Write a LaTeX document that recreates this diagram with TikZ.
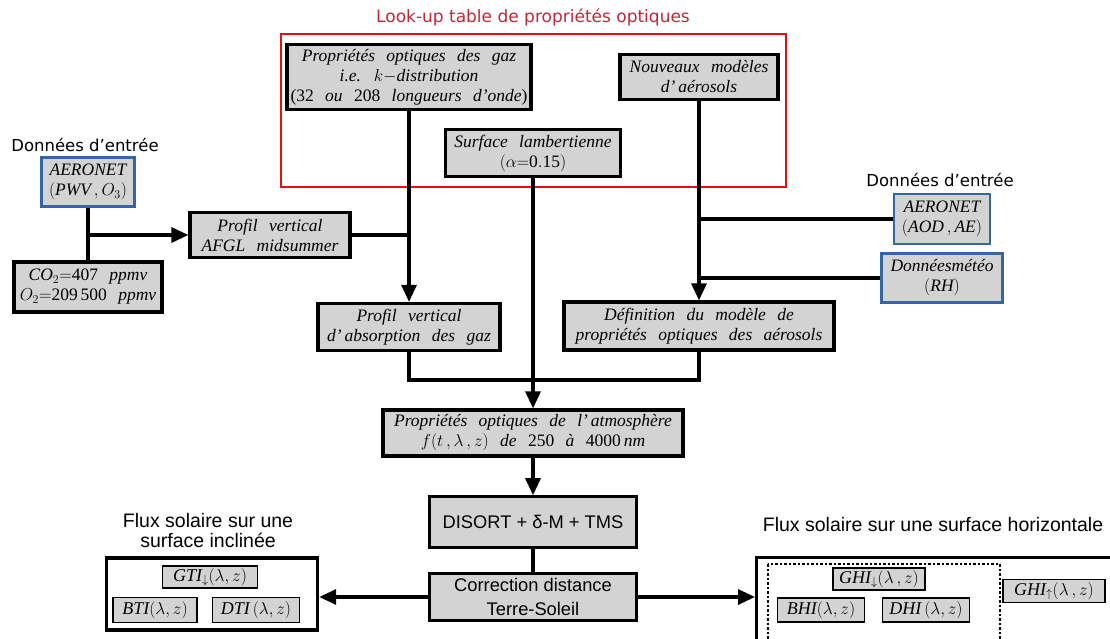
\documentclass[tikz,border=0pt]{standalone}
\usepackage{fontspec}
\setmainfont{Liberation Serif}
\setsansfont{Liberation Sans}
\newfontfamily\djvfont{DejaVu Sans}
\usetikzlibrary{arrows.meta}

\definecolor{boxgray}{RGB}{211,211,211}
\definecolor{datablue}{RGB}{52,101,164}
\definecolor{lutred}{RGB}{226,16,16}
\definecolor{lutlabel}{RGB}{190,40,55}

\newcommand{\boxtext}{\itshape\fontsize{17.5}{20}\selectfont\spaceskip=0.65em plus 0.2em minus 0.2em}

\begin{document}
\begin{tikzpicture}[x=1pt,y=-1pt]
		\tikzset{box/.style = {draw, line width=3.2pt, fill=boxgray, align=center, inner sep=0pt, font=\boxtext}}
		\tikzset{databox/.style = {box, draw=datablue, line width=2.8pt}}
		\tikzset{sansbox/.style = {box, line width=2.6pt, font=\sffamily\fontsize{18.3}{24}\selectfont}}
		\tikzset{smallbox/.style = {box, line width=1.4pt, font=\fontsize{18}{20}\selectfont}}
		\tikzset{frame/.style = {draw, line width=3.4pt, fill=white}}
		\tikzset{heading/.style = {font=\djvfont\fontsize{16.5}{20}\selectfont}}
		\tikzset{fluxlabel/.style = {font=\sffamily\fontsize{19.5}{20}\selectfont, align=center}}
		\tikzset{edge/.style = {line width=3.2pt}}
		\tikzset{arrow/.style = {edge, -{Triangle[length=17pt,width=15pt]}}}
		
		\useasboundingbox (0,0) rectangle (1110,639);
		
		% look-up table
		\node[heading, font=\djvfont\fontsize{17}{20}\selectfont, text=lutlabel] (30) at (533,17) {Look-up table de propriétés optiques};
		\draw[lutred, line width=2.8pt] (281,34) rectangle (786,187);
		
		\node[box, minimum width=244, minimum height=65] (1) at (409,77) {Propriétés optiques des gaz\\ i.e. $k{-}$distribution\\ \textup{(32} ou \textup{208} longueurs d'onde\textup{)}};
		\node[box, minimum width=175, minimum height=47] (2) at (533,153) {Surface lambertienne\\ $(\alpha{=}\mathrm{0.15})$};
		\node[box, minimum width=158, minimum height=45] (3) at (699,77) {Nouveaux modèles\\ d'\,aérosols};
		
		% entrées gaz
		\node[heading] (31) at (85,145) {Données d’entrée};
		\node[databox, minimum width=93, minimum height=49] (4) at (88,182) {AERONET\\ $(\mathit{PWV}\,,O_3)$};
		\node[box, minimum width=148, minimum height=50] (5) at (88,287) {$\mathit{CO}_2{=}\mathrm{407}$ ppmv\\ $O_2{=}\mathrm{209\,500}$ ppmv};
		\node[box, minimum width=160, minimum height=45] (6) at (270,235) {Profil vertical\\ AFGL midsummer};
		\node[box, minimum width=182, minimum height=47] (7) at (409,327) {Profil vertical\\ d'\,absorption des gaz};
		
		% entrées aérosols
		\node[heading] (32) at (940,180) {Données d’entrée};
		\node[databox, minimum width=96, minimum height=50] (8) at (942,219) {AERONET\\ $(\mathit{AOD}\,,\mathit{AE})$};
		\node[databox, minimum width=121, minimum height=49] (9) at (942,278) {Donnéesmétéo\\ $(\mathit{RH})$};
		\node[box, minimum width=270, minimum height=48] (10) at (699,326) {Définition du modèle de\\ propriétés optiques des aérosols};
		
		% calcul
		\node[box, minimum width=300, minimum height=46] (11) at (533,433) {Propriétés optiques de l'\,atmosphère\\ $f(t\,,\lambda\,,z)$ de \textup{250} à \textup{4000}\,nm};
		\node[sansbox, minimum width=207, minimum height=51] (12) at (533,522) {DISORT + δ-M + TMS};
		\node[sansbox, minimum width=207, minimum height=47] (13) at (533,597) {Correction distance\\ Terre-Soleil};
		
		% surface inclinée
		\node[fluxlabel] (33) at (208,531) {Flux solaire sur une\\ surface inclinée};
		\node[frame, minimum width=211, minimum height=72] (14) at (212,594) {};
		\node[smallbox, minimum width=95, minimum height=22] (15) at (210,577) {$\mathit{GTI}_{\downarrow}(\lambda,z)$};
		\node[smallbox, minimum width=84, minimum height=25] (16) at (155,610) {$\mathit{BTI}(\lambda,z)$};
		\node[smallbox, minimum width=87, minimum height=25] (17) at (256,610) {$\mathit{DTI}\,(\lambda,z)$};
		
		% surface horizontale
		\node[fluxlabel] (34) at (933,525) {Flux solaire sur une surface horizontale};
		\node[frame, minimum width=380, minimum height=110, anchor=north west] (18) at (755,556) {};
		\draw[line width=1.3pt, dash pattern=on 2.5pt off 2pt] (768,564) rectangle (1000,645);
		\node[smallbox, minimum width=92, minimum height=22] (20) at (879,579) {$\mathit{GHI}_{\downarrow}(\lambda\,,z)$};
		\node[smallbox, minimum width=87, minimum height=24] (21) at (821,610) {$\mathit{BHI}(\lambda,z)$};
		\node[smallbox, minimum width=87, minimum height=24] (22) at (926,610) {$\mathit{DHI}\,(\lambda,z)$};
		\node[smallbox, minimum width=102, minimum height=23] (23) at (1054,591) {$\mathit{GHI}_{\uparrow}(\lambda\,,z)$};
		
		% connecteurs
		\coordinate (40) at (88,235);
		\coordinate (41) at (409,235);
		\coordinate (42) at (699,219);
		\coordinate (43) at (699,278);
		\coordinate (44) at (533,380);
		
		\draw[edge] (4) to (5);
		\draw[arrow] (40) to (6);
		\draw[edge] (6.east) to (41);
		\draw[arrow] (1) to (7);
		\draw[arrow] (3) to (10);
		\draw[edge] (8.west) to (42);
		\draw[edge] (9.west) to (43);
		\draw[edge] (7.south) |- (44) -| (10.south);
		\draw[arrow] (2) to (11);
		\draw[arrow] (11) to (12);
		\draw[edge] (12) to (13);
		\draw[arrow] (13.west) to (13.west -| 14.east);
		\draw[arrow] (13.east) to (13.east -| 18.west);
\end{tikzpicture}
\end{document}
